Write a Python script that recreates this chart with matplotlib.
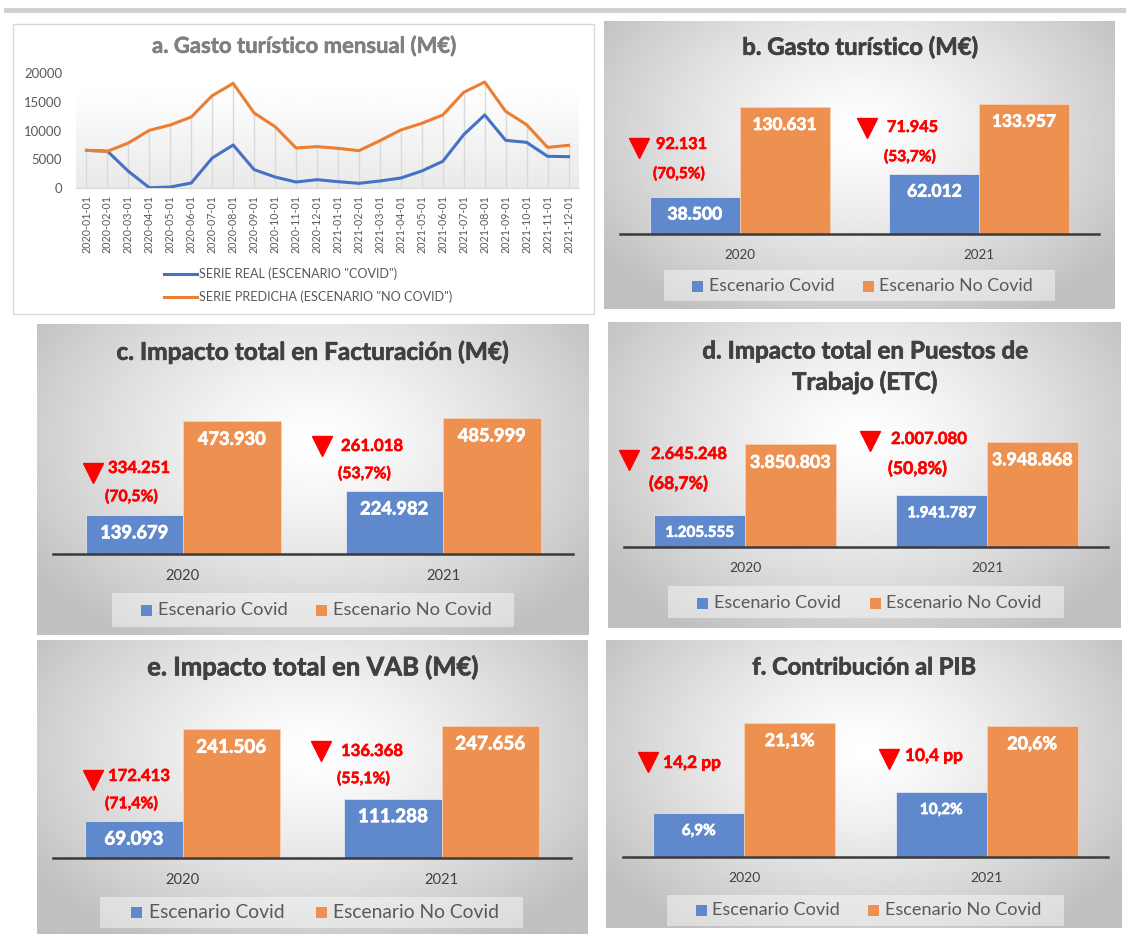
import numpy as np
import matplotlib
matplotlib.use("Agg")
import matplotlib.pyplot as plt
from matplotlib.patches import Rectangle
from matplotlib.lines import Line2D
import matplotlib.patheffects as pe

# ---------------- DATA ----------------
months = ["2020-01-01", "2020-02-01", "2020-03-01", "2020-04-01", "2020-05-01", "2020-06-01",
          "2020-07-01", "2020-08-01", "2020-09-01", "2020-10-01", "2020-11-01", "2020-12-01",
          "2021-01-01", "2021-02-01", "2021-03-01", "2021-04-01", "2021-05-01", "2021-06-01",
          "2021-07-01", "2021-08-01", "2021-09-01", "2021-10-01", "2021-11-01", "2021-12-01"]
serie_real = [6550, 6400, 2900, 50, 170, 870, 5220, 7480, 3190, 1910, 1040, 1450,
              1100, 810, 1220, 1740, 2960, 4640, 9280, 12700, 8290, 7940, 5510, 5450]
serie_predicha = [6550, 6380, 7830, 10030, 10960, 12350, 16060, 18200, 13040, 10670, 6960, 7190,
                  6900, 6490, 8230, 10090, 11250, 12700, 16640, 18430, 13330, 11010, 7070, 7420]
serie_labels = ['SERIE REAL (ESCENARIO "COVID")', 'SERIE PREDICHA (ESCENARIO "NO COVID")']
y_ticks_a = [0, 5000, 10000, 15000, 20000]

years = ["2020", "2021"]
scenario_labels = ["Escenario Covid", "Escenario No Covid"]

gasto_covid = [38500, 62012]
gasto_nocovid = [130631, 133957]
gasto_drop = ["92.131", "71.945"]
gasto_pct = ["(70,5%)", "(53,7%)"]

fact_covid = [139679, 224982]
fact_nocovid = [473930, 485999]
fact_drop = ["334.251", "261.018"]
fact_pct = ["(70,5%)", "(53,7%)"]

empleo_covid = [1205555, 1941787]
empleo_nocovid = [3850803, 3948868]
empleo_drop = ["2.645.248", "2.007.080"]
empleo_pct = ["(68,7%)", "(50,8%)"]

vab_covid = [69093, 111288]
vab_nocovid = [241506, 247656]
vab_drop = ["172.413", "136.368"]
vab_pct = ["(71,4%)", "(55,1%)"]

pib_covid = [6.9, 10.2]
pib_nocovid = [21.1, 20.6]
pib_drop = ["14,2 pp", "10,4 pp"]

# ---------------- STYLE ----------------
W, H = 1126, 934
plt.rcParams["font.family"] = ["Lato", "DejaVu Sans"]
BLUE = "#6088cc"
ORANGE = "#ee9050"
LBLUE = "#4472C4"
LORANGE = "#ED7D31"
TITLE_C = "#404040"
TXT_C = "#595959"
RED = "#ff0000"

fig = plt.figure(figsize=(W / 100, H / 100), dpi=100)
fig.patch.set_facecolor("white")
renderer = fig.canvas.get_renderer()


def rect(x0, y0, x1, y1):
    return [x0 / W, 1 - y1 / H, (x1 - x0) / W, (y1 - y0) / H]


def fx(x):
    return x / W


def fy(y):
    return 1 - y / H


def es_int(v):
    return f"{v:,}".replace(",", ".")


def es_pct(v):
    return f"{v:.1f}".replace(".", ",") + "%"


def fit(txt, target_px, weight="normal"):
    """font size (pt) so that txt is target_px wide"""
    t = fig.text(0, 0, txt, fontsize=20, fontweight=weight)
    w = t.get_window_extent(renderer).width
    t.remove()
    return 20 * target_px / w


def bold_fx(col, lw=0.6):
    return [pe.withStroke(linewidth=lw, foreground=col)]


# top gray band
fig.add_artist(Rectangle((fx(4), fy(13)), fx(1126) - fx(4), fy(8) - fy(13),
                         transform=fig.transFigure, facecolor="#d0d0d0", edgecolor="none",
                         zorder=-10))

# ---------------- PANEL A ----------------
fig.add_artist(Rectangle((fx(13), fy(314)), fx(594) - fx(13), fy(24) - fy(314),
                         transform=fig.transFigure, facecolor="white", edgecolor="#d9d9d9",
                         lw=1, zorder=-10))
ttl_a = "a. Gasto turístico mensual (M€)"
fig.text(fx(304), fy(46), ttl_a, ha="center", va="center",
         fontsize=fit(ttl_a, 304, "bold"), fontweight="bold", color="#808080",
         path_effects=bold_fx("#808080", 0.4))

axa = fig.add_axes(rect(76, 73, 579, 188))
xa = np.arange(len(months))
axa.set_xlim(-0.5, len(months) - 0.5)
axa.set_ylim(0, 20000)
g = np.linspace(0, 1, 200)
gv = 1 - 0.085 * np.clip((g - 0.12) / 0.88, 0, 1)
axa.imshow(gv[:, None], extent=[-0.5, len(months) - 0.5, 0, 20000], origin="upper",
           aspect="auto", cmap="gray", vmin=0, vmax=1, zorder=0)
axa.vlines(xa, 0, np.maximum(serie_real, serie_predicha), color="#d9d9d9", lw=1, zorder=1)
axa.plot(xa, serie_real, color=LBLUE, lw=2.2, zorder=3, solid_joinstyle="round")
axa.plot(xa, serie_predicha, color=LORANGE, lw=2.2, zorder=3, solid_joinstyle="round")
for s in ["top", "right", "left"]:
    axa.spines[s].set_visible(False)
axa.spines["bottom"].set_color("#d9d9d9")
axa.set_yticks(y_ticks_a)
axa.set_yticklabels([str(v) for v in y_ticks_a])
axa.set_xticks(xa)
axa.set_xticklabels(months, rotation=90)
axa.tick_params(axis="y", length=0, pad=10, labelsize=fit("20000", 38), labelcolor=TXT_C)
axa.tick_params(axis="x", length=0, pad=5, labelsize=fit("2020-01-01", 57), labelcolor=TXT_C)

leg_fs_a = fit(serie_labels[0], 199)
for i, (lab, col) in enumerate(zip(serie_labels, [LBLUE, LORANGE])):
    yy = 274 + i * 23
    fig.add_artist(Line2D([fx(164), fx(197)], [fy(yy), fy(yy)], transform=fig.transFigure,
                          color=col, lw=2.2))
    fig.text(fx(199), fy(yy), lab, ha="left", va="center", fontsize=leg_fs_a, color=TXT_C)


# ---------------- BAR PANELS ----------------
def gradient_bg(box):
    ax = fig.add_axes(rect(*box), zorder=-5)
    ny, nx = 200, 300
    Y, X = np.mgrid[0:1:ny * 1j, 0:1:nx * 1j]
    d = np.sqrt(((X - 0.5) / 0.62) ** 2 + ((Y - 0.38) / 0.75) ** 2)
    v = 1 - 0.25 * np.clip(d, 0, 1) ** 1.3
    ax.imshow(v, extent=[0, 1, 0, 1], origin="upper", aspect="auto", cmap="gray",
              vmin=0, vmax=1)
    ax.set_axis_off()


def bar_panel(box, title_lines, title_y, title_w, axx, base, ax_h, ymax,
              covid, nocovid, fmt, val_w, cat_w, legend, anns, ann_w, pct_w,
              drops, pcts):
    gradient_bg(box)
    cx = (box[0] + box[2]) / 2
    tfs = fit(title_lines[0], title_w, "bold")
    for k, t in enumerate(title_lines):
        fig.text(fx(cx), fy(title_y + k * 31), t, ha="center", va="center",
                 fontsize=tfs, fontweight="bold", color=TITLE_C,
                 path_effects=bold_fx(TITLE_C, 0.5))
    ax = fig.add_axes(rect(axx[0], base - ax_h, axx[1], base))
    ax.patch.set_alpha(0)
    x = np.arange(len(years))
    w = 0.375
    b1 = ax.bar(x - w / 2, covid, w, color=BLUE, edgecolor="#eef0f6", lw=0.5, zorder=2)
    b2 = ax.bar(x + w / 2, nocovid, w, color=ORANGE, edgecolor="#f6d5bd", lw=0.5, zorder=2)
    vfs = [fit(fmt(covid[0]), val_w[0], "bold"), fit(fmt(nocovid[0]), val_w[1], "bold")]
    for bars, vals, fs in [(b1, covid, vfs[0]), (b2, nocovid, vfs[1])]:
        for rct, v in zip(bars, vals):
            ax.annotate(fmt(v), (rct.get_x() + rct.get_width() / 2, v), xytext=(0, -18),
                        textcoords="offset pixels", ha="center", va="center",
                        color="white", fontweight="bold", fontsize=fs, zorder=4,
                        path_effects=bold_fx("white", 0.5))
    ax.set_xlim(-0.5, 1.5)
    ax.set_ylim(0, ymax)
    for s in ["top", "right", "left"]:
        ax.spines[s].set_visible(False)
    ax.spines["bottom"].set_color("#3a3a3a")
    ax.spines["bottom"].set_linewidth(1.8)
    ax.spines["bottom"].set_zorder(5)
    ax.set_yticks([])
    ax.set_xticks(x)
    ax.set_xticklabels(years)
    ax.tick_params(axis="x", length=0, pad=10.5, labelsize=fit(years[0], cat_w),
                   labelcolor=TITLE_C)

    # legend
    lb, ly, sq1, tx1, sq2, tx2, lw_ = legend
    lfs = fit(scenario_labels[0], lw_)
    fig.add_artist(Rectangle((fx(lb[0]), fy(lb[3])), fx(lb[2]) - fx(lb[0]), fy(lb[1]) - fy(lb[3]),
                             transform=fig.transFigure, facecolor="white", alpha=0.45,
                             edgecolor="none"))
    for sq, tx, col, lab in [(sq1, tx1, BLUE, scenario_labels[0]), (sq2, tx2, ORANGE, scenario_labels[1])]:
        fig.add_artist(Rectangle((fx(sq), fy(ly + 5.5)), fx(11), 11 / H,
                                 transform=fig.transFigure, facecolor=col, edgecolor="none"))
        fig.text(fx(tx), fy(ly), lab, ha="left", va="center", fontsize=lfs, color=TXT_C)

    # annotations (red triangles + reductions)
    afs = fit(drops[0], ann_w, "bold")
    pfs = fit(pcts[0], pct_w, "bold") if pcts[0] is not None else afs
    for (tri, num, pct), dtxt, ptxt in zip(anns, drops, pcts):
        fig.add_artist(Line2D([fx(tri[0])], [fy(tri[1])], transform=fig.transFigure,
                              marker="v", markersize=15, color=RED, lw=0))
        fig.text(fx(num[0]), fy(num[1]), dtxt, ha="left", va="center",
                 fontsize=afs, fontweight="bold", color=RED,
                 path_effects=bold_fx(RED, 0.4))
        if pct is not None and ptxt is not None:
            fig.text(fx(pct[0]), fy(pct[1]), ptxt, ha="left", va="center",
                     fontsize=pfs, fontweight="bold", color=RED,
                     path_effects=bold_fx(RED, 0.4))


# b
bar_panel(box=(604, 21, 1115, 309), title_lines=["b. Gasto turístico (M€)"], title_y=47,
          title_w=236, axx=(620, 1099), base=234, ax_h=150, ymax=154300,
          covid=gasto_covid, nocovid=gasto_nocovid, fmt=es_int, val_w=(55, 64), cat_w=31,
          legend=((664, 270, 1055, 301), 286, 692, 709, 863, 879, 125),
          anns=[((639, 148), (656, 145), (653, 174)), ((867, 128), (887, 128), (884, 157))],
          ann_w=51, pct_w=52, drops=gasto_drop, pcts=gasto_pct)
# c
bar_panel(box=(37, 324, 589, 635), title_lines=["c. Impacto total en Facturación (M€)"], title_y=352,
          title_w=392, axx=(53, 573), base=554, ax_h=160, ymax=571400,
          covid=fact_covid, nocovid=fact_nocovid, fmt=es_int, val_w=(68, 68), cat_w=34,
          legend=((112, 593, 514, 627), 610, 141, 158, 316, 333, 130),
          anns=[((93, 473), (108, 468), (105, 497)), ((322, 446), (341, 446), (338, 474))],
          ann_w=62, pct_w=53, drops=fact_drop, pcts=fact_pct)
# d
bar_panel(box=(608, 322, 1121, 628), title_lines=["d. Impacto total en Puestos de", "Trabajo (ETC)"],
          title_y=351, title_w=326, axx=(624, 1108), base=547, ax_h=130, ymax=4878000,
          covid=empleo_covid, nocovid=empleo_nocovid, fmt=es_int, val_w=(69, 81), cat_w=32,
          legend=((668, 586, 1064, 618), 603, 697, 714, 870, 886, 127),
          anns=[((629, 460), (651, 454), (649, 483)), ((870, 441), (891, 439), (888, 468))],
          ann_w=76, pct_w=59, drops=empleo_drop, pcts=empleo_pct)
# e
bar_panel(box=(37, 640, 588, 934), title_lines=["e. Impacto total en VAB (M€)"], title_y=667,
          title_w=331, axx=(53, 571), base=858, ax_h=150, ymax=281400,
          covid=vab_covid, nocovid=vab_nocovid, fmt=es_int, val_w=(59, 70), cat_w=34,
          legend=((100, 897, 523, 928), 912, 131, 149, 316, 333, 136),
          anns=[((93, 780), (108, 776), (105, 804)), ((321, 751), (341, 751), (337, 779))],
          ann_w=62, pct_w=53, drops=vab_drop, pcts=vab_pct)
# f
bar_panel(box=(606, 640, 1122, 928), title_lines=["f. Contribución al PIB"], title_y=667,
          title_w=224, axx=(623, 1108), base=857, ax_h=150, ymax=23.55,
          covid=pib_covid, nocovid=pib_nocovid, fmt=es_pct, val_w=(34, 50), cat_w=32,
          legend=((667, 895, 1064, 926), 910, 696, 712, 868, 885, 128),
          anns=[((648, 762), (663, 763), None), ((889, 759), (905, 756), None)],
          ann_w=58, pct_w=None, drops=pib_drop, pcts=[None, None])

fig.savefig("out.png", dpi=100, facecolor="white")
